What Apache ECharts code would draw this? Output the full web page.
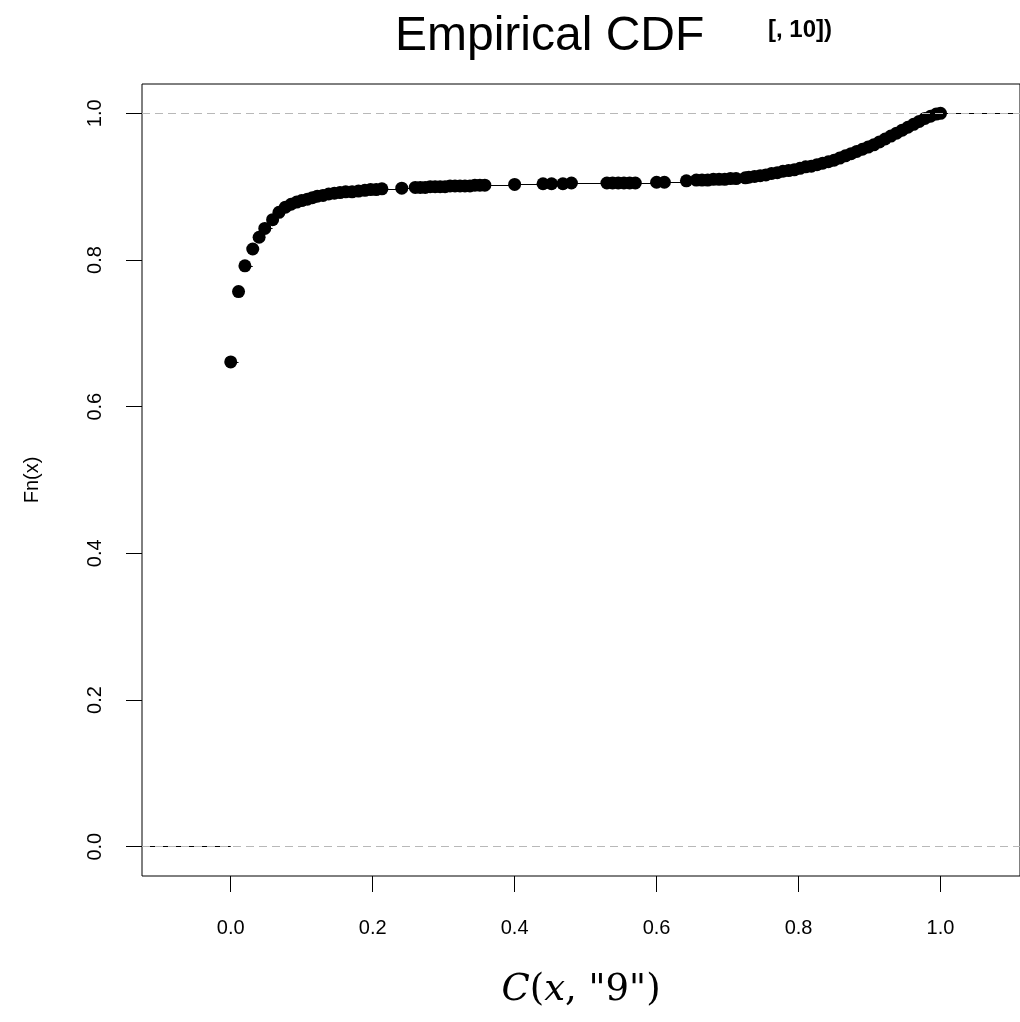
<!DOCTYPE html>
<html>
<head>
<meta charset="utf-8">
<script src="https://cdn.jsdelivr.net/npm/echarts@6/dist/echarts.min.js"></script>
<style>
  html, body { margin: 0; padding: 0; background: #fff; }
  #chartmain { width: 1020px; height: 1022px; }
</style>
</head>
<body>
<div id="chartmain"></div>
<script>
// values (jump points of the ecdf)
var xVals = [
  0.000, 0.011, 0.020, 0.031, 0.040, 0.048, 0.059, 0.068, 0.077, 0.085,
  0.093, 0.100, 0.108, 0.115, 0.122, 0.130, 0.138, 0.146, 0.154, 0.162,
  0.171, 0.180, 0.189, 0.197, 0.205, 0.213, 0.241, 0.260, 0.267, 0.274,
  0.281, 0.288, 0.295, 0.302, 0.309, 0.316, 0.323, 0.330, 0.337, 0.344,
  0.351, 0.358, 0.400, 0.440, 0.452, 0.468, 0.480, 0.530, 0.538, 0.546,
  0.554, 0.562, 0.570, 0.600, 0.611, 0.642, 0.656, 0.664, 0.672, 0.680,
  0.688, 0.696, 0.704, 0.712, 0.725, 0.730, 0.738, 0.746, 0.754, 0.762,
  0.770, 0.778, 0.786, 0.794, 0.802, 0.810, 0.818, 0.826, 0.834, 0.842,
  0.850, 0.858, 0.866, 0.874, 0.882, 0.890, 0.898, 0.906, 0.914, 0.922,
  0.930, 0.938, 0.946, 0.954, 0.962, 0.970, 0.978, 0.986, 0.994, 1.000
];
var fnVals = [
  0.661, 0.757, 0.792, 0.815, 0.831, 0.843, 0.855, 0.865, 0.872, 0.876,
  0.879, 0.881, 0.883, 0.885, 0.887, 0.888, 0.890, 0.891, 0.892, 0.893,
  0.893, 0.894, 0.895, 0.896, 0.896, 0.897, 0.898, 0.899, 0.899, 0.899,
  0.900, 0.900, 0.900, 0.900, 0.901, 0.901, 0.901, 0.901, 0.901, 0.902,
  0.902, 0.902, 0.903, 0.904, 0.904, 0.904, 0.905, 0.905, 0.905, 0.905,
  0.905, 0.905, 0.905, 0.906, 0.906, 0.908, 0.909, 0.909, 0.909, 0.910,
  0.910, 0.910, 0.911, 0.911, 0.912, 0.913, 0.914, 0.915, 0.916, 0.918,
  0.919, 0.921, 0.922, 0.923, 0.925, 0.927, 0.928, 0.930, 0.932, 0.934,
  0.936, 0.939, 0.942, 0.945, 0.948, 0.951, 0.954, 0.957, 0.961, 0.965,
  0.969, 0.973, 0.977, 0.981, 0.985, 0.989, 0.993, 0.996, 0.999, 1.000
];
var xTicks = [0, 0.2, 0.4, 0.6, 0.8, 1.0];
var yTicks = [0, 0.2, 0.4, 0.6, 0.8, 1.0];
var refLevels = [0, 1];
var xMin = -0.125, xMax = 1.112;

// horizontal pieces of the step function (no verticals, like plot.ecdf)
var steps = [{ coords: [[xMin, 0], [xVals[0], 0]] }];
for (var i = 0; i < xVals.length; i++) {
  var xEnd = i < xVals.length - 1 ? xVals[i + 1] : xMax;
  steps.push({ coords: [[xVals[i], fnVals[i]], [xEnd, fnVals[i]]] });
}
var refs = refLevels.map(function (v) {
  return { coords: [[xMin, v], [xMax, v]] };
});
var pts = xVals.map(function (x, i) { return [x, fnVals[i]]; });

var myChart = echarts.init(document.getElementById('chartmain'));
var font = 'Liberation Sans, Arial, sans-serif';
myChart.setOption({
  animation: false,
  backgroundColor: '#fff',
  title: [
    {
      text: 'Empirical CDF',
      left: 390, top: 8,
      textStyle: { fontFamily: font, fontSize: 48, fontWeight: 'normal', color: '#000' }
    },
    {
      text: '[, 10])',
      left: 763, top: 13,
      textStyle: { fontFamily: font, fontSize: 24, fontWeight: 'bold', color: '#000' }
    }
  ],
  grid: {
    left: 142, top: 84, right: 0, bottom: 146,
    show: true, borderColor: '#000', borderWidth: 1
  },
  xAxis: {
    type: 'value',
    min: xMin, max: xMax,
    name: '{i|C}{n|(}{i|x}{n|, "9")}',
    nameLocation: 'middle',
    nameGap: 96,
    nameTextStyle: {
      rich: {
        i: { fontFamily: 'DejaVu Serif', fontStyle: 'italic', fontSize: 37, color: '#000' },
        n: { fontFamily: 'DejaVu Serif', fontSize: 37, color: '#000' }
      }
    },
    axisLine: { show: false, onZero: false },
    splitLine: { show: false },
    axisTick: { show: true, customValues: xTicks, length: 16, lineStyle: { color: '#000' } },
    axisLabel: {
      customValues: xTicks, margin: 42,
      fontFamily: font, fontSize: 20, color: '#000',
      formatter: function (v) { return v.toFixed(1); }
    }
  },
  yAxis: {
    type: 'value',
    min: -0.04, max: 1.04,
    name: 'Fn(x)',
    nameLocation: 'middle',
    nameRotate: 90,
    nameGap: 100,
    nameTextStyle: { fontFamily: font, fontSize: 20, color: '#000' },
    axisLine: { show: false, onZero: false },
    splitLine: { show: false },
    axisTick: { show: true, customValues: yTicks, length: 16, lineStyle: { color: '#000' } },
    axisLabel: {
      customValues: yTicks, margin: 37, rotate: 90,
      fontFamily: font, fontSize: 20, color: '#000',
      formatter: function (v) { return v.toFixed(1); }
    }
  },
  series: [
    {
      type: 'lines',
      coordinateSystem: 'cartesian2d',
      data: steps,
      silent: true, z: 2,
      lineStyle: { color: '#000', width: 1, opacity: 1 }
    },
    {
      type: 'scatter',
      data: pts,
      symbol: 'circle', symbolSize: 13,
      silent: true, z: 3,
      itemStyle: { color: '#000', opacity: 1 }
    },
    {
      type: 'lines',
      coordinateSystem: 'cartesian2d',
      data: refs,
      silent: true, z: 4,
      lineStyle: { color: '#b8b8b8', width: 1, type: [8, 5], opacity: 1 }
    }
  ]
});
</script>
</body>
</html>
